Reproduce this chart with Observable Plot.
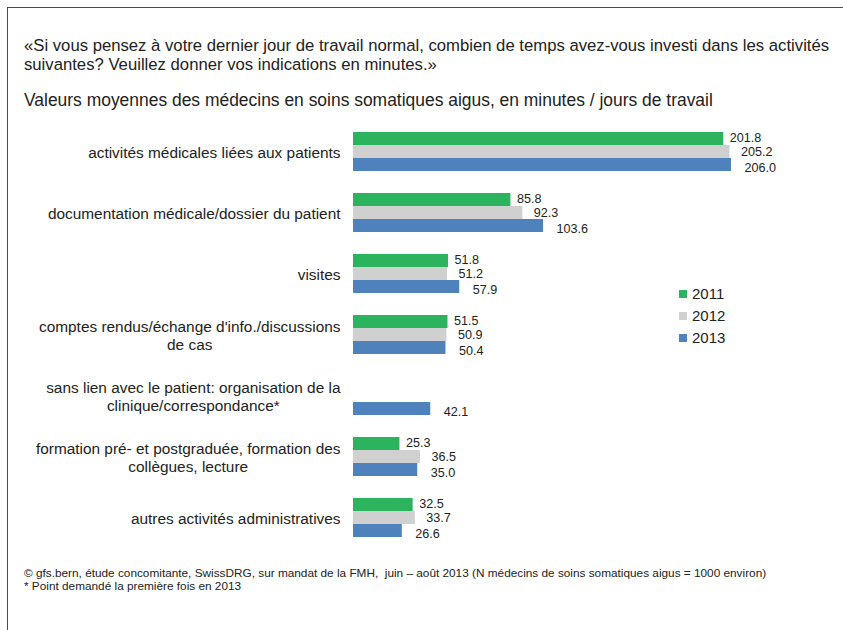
<!DOCTYPE html>
<html>
<head>
<meta charset="utf-8">
<script src="https://cdn.jsdelivr.net/npm/d3@7"></script>
<script src="https://cdn.jsdelivr.net/npm/@observablehq/plot@0.6"></script>
<style>
  html, body { margin: 0; padding: 0; background: #fff; overflow: hidden; }
  body { width: 843px; height: 630px; position: relative; font-family: "Liberation Sans", Arial, sans-serif; color: #222; }
  #frame { position: absolute; left: 7px; top: 7px; width: 900px; height: 700px; border: 1px solid #4a4a4a; box-sizing: border-box; }
  #title { position: absolute; left: 24px; top: 35.5px; font-size: 16.7px; line-height: 19px; white-space: nowrap; }
  #subtitle { position: absolute; left: 24px; top: 90.5px; font-size: 17.45px; line-height: 19px; white-space: nowrap; }
  #chart { position: absolute; left: 0; top: 100px; }
  #legend { position: absolute; left: 679px; top: 283px; font-size: 15px; }
  #legend .item { height: 22px; line-height: 22px; display: flex; align-items: center; }
  #legend .sw { width: 8px; height: 8px; margin-right: 5px; }
  #footer { position: absolute; left: 24px; top: 566.5px; font-size: 11.8px; line-height: 13px; white-space: nowrap; }
</style>
</head>
<body>
<div id="frame"></div>
<div id="title">«Si vous pensez à votre dernier jour de travail normal, combien de temps avez-vous investi dans les activités<br>suivantes? Veuillez donner vos indications en minutes.»</div>
<div id="subtitle">Valeurs moyennes des médecins en soins somatiques aigus, en minutes / jours de travail</div>
<div id="chart"></div>
<div id="legend"></div>
<div id="footer">© gfs.bern, étude concomitante, SwissDRG, sur mandat de la FMH,&nbsp; juin – août 2013 (N médecins de soins somatiques aigus = 1000 environ)<br>* Point demandé la première fois en 2013</div>
<script>
const categories = [
  "activités médicales liées aux patients",
  "documentation médicale/dossier du patient",
  "visites",
  "comptes rendus/échange d'info./discussions\nde cas",
  "sans lien avec le patient: organisation de la\nclinique/correspondance*",
  "formation pré- et postgraduée, formation des\ncollègues, lecture",
  "autres activités administratives"
];
const years = ["2011", "2012", "2013"];
const values2011 = [201.8, 85.8, 51.8, 51.5, null, 25.3, 32.5];
const values2012 = [205.2, 92.3, 51.2, 50.9, null, 36.5, 33.7];
const values2013 = [206.0, 103.6, 57.9, 50.4, 42.1, 35.0, 26.6];
const colors = ["#2bb45d", "#d0d0d0", "#4f81bd"];

const series = [values2011, values2012, values2013];
const data = [];
categories.forEach((c, i) => {
  years.forEach((y, j) => {
    const v = series[j][i];
    if (v != null) data.push({cat: c, year: y, value: v});
  });
});

const labelOffsets = {"2011": [6, -1], "2012": [11, 0], "2013": [13, 3]};

const chart = Plot.plot({
  width: 843,
  height: 461,
  marginLeft: 353,
  marginRight: 31.3,
  marginTop: 18,
  marginBottom: 10.4,
  style: {background: "transparent", fontFamily: "Liberation Sans, Arial, sans-serif", color: "#222"},
  x: {domain: [0, 250], axis: null},
  y: {domain: years, padding: 0, axis: null},
  fy: {domain: categories, paddingInner: 0.32, paddingOuter: 0.16, axis: null},
  color: {domain: years, range: colors},
  marks: [
    Plot.barX(data, {x: "value", y: "year", fy: "cat", fill: "year"}),
    ...years.map(yr => Plot.text(data.filter(d => d.year === yr), {
      x: "value", y: "year", fy: "cat",
      text: d => d.value.toFixed(1),
      textAnchor: "start",
      dx: labelOffsets[yr][0], dy: labelOffsets[yr][1],
      fontSize: 12.6, fill: "#222"
    })),
    Plot.axisFy({anchor: "left", tickSize: 0, tickPadding: 13, label: null, fontSize: 15.4, lineHeight: 1.19, fill: "#222"})
  ]
});
document.getElementById("chart").appendChild(chart);

// center the lines of wrapped category labels (as in the original)
chart.querySelectorAll("text").forEach(t => {
  const spans = t.querySelectorAll("tspan");
  if (spans.length > 1) {
    let w = 0;
    spans.forEach(s => { w = Math.max(w, s.getComputedTextLength()); });
    t.setAttribute("text-anchor", "middle");
    spans.forEach(s => s.setAttribute("x", -w / 2));
  }
});

const legend = document.getElementById("legend");
years.forEach((y, i) => {
  const item = document.createElement("div");
  item.className = "item";
  const sw = document.createElement("div");
  sw.className = "sw";
  sw.style.background = colors[i];
  const lab = document.createElement("span");
  lab.textContent = y;
  item.appendChild(sw);
  item.appendChild(lab);
  legend.appendChild(item);
});
</script>
</body>
</html>
